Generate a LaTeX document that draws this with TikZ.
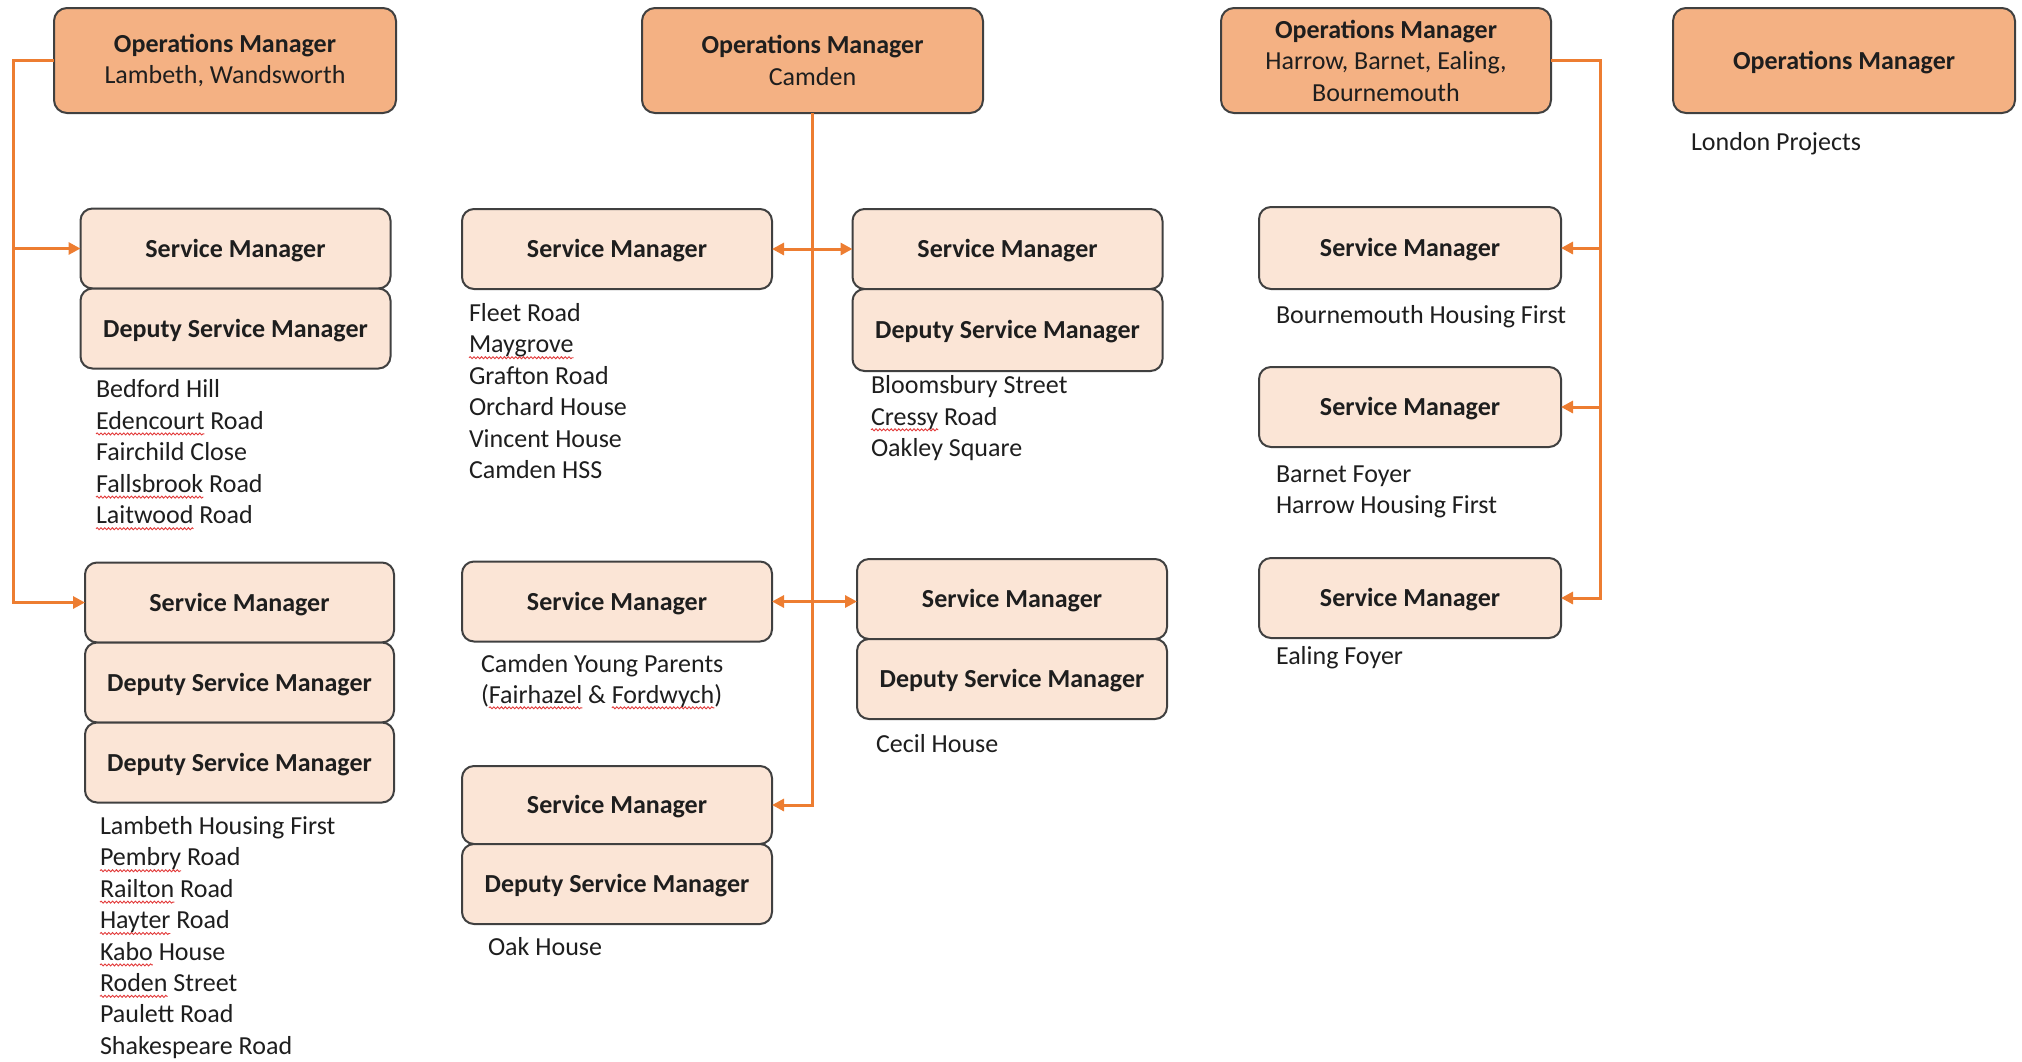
\documentclass[tikz,border=0pt]{standalone}
\usepackage{fontspec}
\setmainfont{Carlito}
\usetikzlibrary{arrows.meta,positioning,decorations.pathmorphing}

\definecolor{opsfill}{HTML}{F4B183}
\definecolor{smfill}{HTML}{FBE5D6}
\definecolor{edge}{HTML}{404040}
\definecolor{linkc}{HTML}{ED7D31}
\definecolor{txt}{HTML}{1E1E1E}
\definecolor{spellred}{HTML}{E23A3A}

\newcommand\basefont{\fontsize{13}{15.75}\selectfont}

\tikzset{
  opsbox/.style={draw=edge, line width=1pt, fill=opsfill, rounded corners=6.5pt,
    minimum width=171pt, minimum height=52.5pt, align=center, inner sep=0pt,
    outer sep=0pt, font=\basefont, text=txt},
  smbox/.style={draw=edge, line width=1pt, fill=smfill, rounded corners=6pt,
    minimum width=155pt, minimum height=40pt, inner sep=0pt, outer sep=0pt,
    font=\basefont\bfseries, text=txt, text height=10pt, text depth=1.2pt},
  item/.style={anchor=base west, inner sep=0pt, outer sep=0pt, font=\basefont, text=txt},
  link/.style={draw=linkc, line width=1.5pt},
  tip/.style={-{Triangle[length=6pt,width=6pt]}},
  tips/.style={{Triangle[length=6pt,width=6pt]}-{Triangle[length=6pt,width=6pt]}},
  spell/.style={draw=spellred, line width=0.45pt, decorate,
    decoration={snake, amplitude=0.5pt, segment length=1.9pt}},
}

% wavy underline below a word node
\newcommand\squiggle[1]{%
  \draw[spell] ([yshift=-2.4pt]#1.base west) -- ([yshift=-2.4pt]#1.base east);}

% a list line whose first word carries a wavy underline:
% #1 name, #2 x, #3 y, #4 word, #5 rest of the line
\newcommand\flagline[5]{%
  \node[item] (#1w) at (#2,#3) {#4};
  \node[item] (#1) at (#1w.base east) {#5};
  \squiggle{#1w}
}

\begin{document}
\begin{tikzpicture}[x=0.5pt, y=-0.5pt]
\useasboundingbox (0,0) rectangle (2022,1061);

% operations managers
\node[opsbox] (ops1) at (225,60.5) {\textbf{Operations Manager}\\Lambeth, Wandsworth};
\node[opsbox, minimum width=170.5pt] (ops2) at (812.5,60.5) {\textbf{Operations Manager}\\Camden};
\node[opsbox, minimum width=165pt] (ops3) at (1386,60.5) {\textbf{Operations Manager}\\Harrow, Barnet, Ealing,\\Bournemouth};
\node[opsbox, text height=10pt, text depth=1.2pt] (ops4) at (1844,60.5) {\textbf{Operations Manager}};

% Lambeth / Wandsworth
\node[smbox] (sm1a) at (235.5,248.5) {Service Manager};
\node[smbox, below=0pt of sm1a] (dsm1a) {Deputy Service Manager};
\node[smbox, minimum width=154.5pt] (sm1b) at (239.5,602.5) {Service Manager};
\node[smbox, minimum width=154.5pt, below=0pt of sm1b] (dsm1b) {Deputy Service Manager};
\node[smbox, minimum width=154.5pt, below=0pt of dsm1b] (dsm1c) {Deputy Service Manager};

% Camden
\node[smbox] (sm2a) at (617,249) {Service Manager};
\node[smbox] (sm2b) at (617,601.5) {Service Manager};
\node[smbox, minimum height=39pt] (sm2c) at (617,805) {Service Manager};
\node[smbox, below=0pt of sm2c] (dsm2c) {Deputy Service Manager};
\node[smbox] (sm3a) at (1007.5,249) {Service Manager};
\node[smbox, minimum height=41pt, below=0pt of sm3a] (dsm3a) {Deputy Service Manager};
\node[smbox] (sm3b) at (1012,599) {Service Manager};
\node[smbox, below=0pt of sm3b] (dsm3b) {Deputy Service Manager};

% Harrow, Barnet, Ealing, Bournemouth
\node[smbox, minimum width=151pt, minimum height=41pt] (sm4a) at (1410,248) {Service Manager};
\node[smbox, minimum width=151pt] (sm4b) at (1410,407) {Service Manager};
\node[smbox, minimum width=151pt] (sm4c) at (1410,598) {Service Manager};

% connectors
\coordinate (j1) at (13,60.5);
\draw[link, tip] (ops1.west) -- (j1) |- (sm1b.west);
\draw[link, tip] (j1 |- sm1a.west) -- (sm1a.west);

\draw[link, tip] (ops2.south) |- (sm2c.east);
\draw[link, tips] (sm2a.east) -- (sm3a.west);
\draw[link, tips] (sm2b.east) -- (sm2b.east -| sm3b.west);

\coordinate (j4) at (1600,60.5);
\draw[link, tip] (ops3.east) -- (j4) |- (sm4c.east);
\draw[link, tip] (j4 |- sm4a.east) -- (sm4a.east);
\draw[link, tip] (j4 |- sm4b.east) -- (sm4b.east);

% project lists
\node[item] (la0) at (96,397.5) {Bedford Hill};
\flagline{la1}{96}{429.1}{Edencourt}{\ Road}
\node[item] (la2) at (96,460.7) {Fairchild Close};
\flagline{la3}{96}{492.3}{Fallsbrook}{\ Road}
\flagline{la4}{96}{523.9}{Laitwood}{\ Road}

\node[item] (lb0) at (100,834.5) {Lambeth Housing First};
\flagline{lb1}{100}{865.9}{Pembry}{\ Road}
\flagline{lb2}{100}{897.3}{Railton}{\ Road}
\flagline{lb3}{100}{928.7}{Hayter}{\ Road}
\flagline{lb4}{100}{960.1}{Kabo}{\ House}
\flagline{lb5}{100}{991.5}{Roden}{\ Street}
\node[item] (lb6) at (100,1022.9) {Paulett Road};
\node[item] (lb7) at (100,1054.3) {Shakespeare Road};

\node[item] (lc0) at (469,321.5) {Fleet Road};
\node[item] (lc1) at (469,352.9) {Maygrove};
\squiggle{lc1}
\node[item] (lc2) at (469,384.3) {Grafton Road};
\node[item] (lc3) at (469,415.7) {Orchard House};
\node[item] (lc4) at (469,447.1) {Vincent House};
\node[item] (lc5) at (469,478.5) {Camden HSS};

\node[item] (ld0) at (481,672.5) {Camden Young Parents};
\node[item] (ld1) at (481,703) {(};
\node[item] (ld1a) at (ld1.base east) {Fairhazel};
\node[item] (ld1b) at (ld1a.base east) {\ \&\ \null};
\node[item] (ld1c) at (ld1b.base east) {Fordwych};
\node[item] (ld1d) at (ld1c.base east) {)};
\squiggle{ld1a}
\squiggle{ld1c}
\node[item] (le0) at (488,955.5) {Oak House};

\node[item] (lf0) at (871,393.5) {Bloomsbury Street};
\flagline{lf1}{871}{425}{Cressy}{\ Road}
\node[item] (lf2) at (871,456.5) {Oakley Square};
\node[item] (lg0) at (876,752.5) {Cecil House};

\node[item] (lh0) at (1276,323.5) {Bournemouth Housing First};
\node[item] (li0) at (1276,482.5) {Barnet Foyer};
\node[item] (li1) at (1276,513) {Harrow Housing First};
\node[item] (lj0) at (1276,664.5) {Ealing Foyer};
\node[item] (lk0) at (1691,150.5) {London Projects};
\end{tikzpicture}
\end{document}
